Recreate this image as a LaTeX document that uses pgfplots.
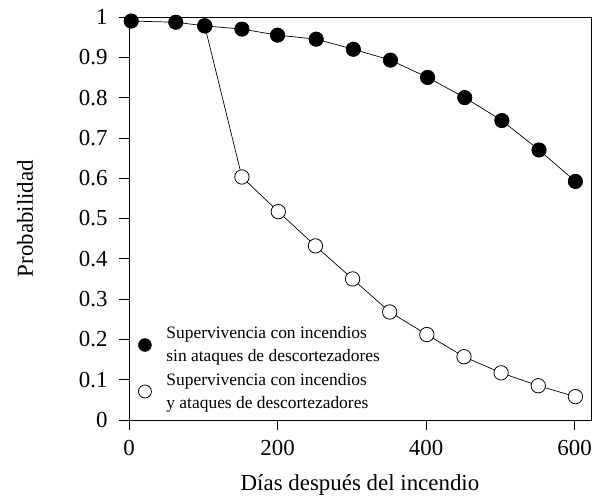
\documentclass[border=0pt]{standalone}
\usepackage{fontspec}
\setmainfont{Liberation Serif}
\usepackage{pgfplots}
\pgfplotsset{compat=1.18}

\pgfplotstableread{
dia prob
3   0.990
63  0.987
102 0.978
152 0.970
200 0.955
252 0.945
302 0.920
352 0.893
402 0.850
452 0.800
502 0.743
552 0.670
601 0.592
}\sinataques

\pgfplotstableread{
dia prob
102 0.978
152 0.603
201 0.517
251 0.432
301 0.350
351 0.268
401 0.212
451 0.157
501 0.117
551 0.085
601 0.058
}\conataques

\begin{document}
\begin{tikzpicture}
\begin{axis}[
    name=ax,
    scale only axis,
    width=462bp, height=403bp,
    xmin=0, xmax=622,
    ymin=0, ymax=1,
    xtick={0,200,400,600},
    ytick={0,0.1,...,1},
    tick pos=left,
    tick align=outside,
    major tick length=10bp,
    axis line style={line width=0.8pt},
    tick style={line width=0.8pt, black},
    /pgf/number format/assume math mode=true,
    ticklabel style={font=\fontsize{23}{23}\selectfont},
    xticklabel style={yshift=-7bp},
    yticklabel style={xshift=-8bp},
    every axis x label/.style={at={([yshift=-70bp]rel axis cs:0.5,0)}, anchor=base},
    every axis y label/.style={at={([xshift=-104bp]rel axis cs:0,0.5)}, anchor=center, rotate=90},
    xlabel={Días después del incendio},
    ylabel={Probabilidad},
    label style={font=\fontsize{23}{23}\selectfont},
    legend style={draw=none, fill=none, inner sep=0pt, at={(0.02,0.02)}, anchor=south west,
        font=\fontsize{17.5}{23}\selectfont, cells={align=left, anchor=west},
        row sep=6bp, /tikz/every odd column/.style={column sep=13bp}},
    legend cell align=left,
]
\addplot[black, line width=0.7pt, mark=*, mark size=7.2bp,
    mark options={fill=white, line width=0.8pt}, forget plot] table[x=dia, y=prob] {\conataques};
\addplot[black, line width=0.7pt, mark=*, mark size=7.2bp,
    mark options={fill=black}, forget plot] table[x=dia, y=prob] {\sinataques};
\addlegendimage{only marks, mark=*, mark size=6.5bp, black, mark options={fill=black}}
\addlegendentry{Supervivencia con incendios\\sin ataques de descortezadores}
\addlegendimage{only marks, mark=*, mark size=6.5bp, black, mark options={fill=white, line width=0.8pt}}
\addlegendentry{Supervivencia con incendios\\y ataques de descortezadores}
\end{axis}
\pgfresetboundingbox
\path ([xshift=-129bp,yshift=-78bp]ax.south west) rectangle ([xshift=6bp,yshift=17bp]ax.north east);
\end{tikzpicture}
\end{document}
